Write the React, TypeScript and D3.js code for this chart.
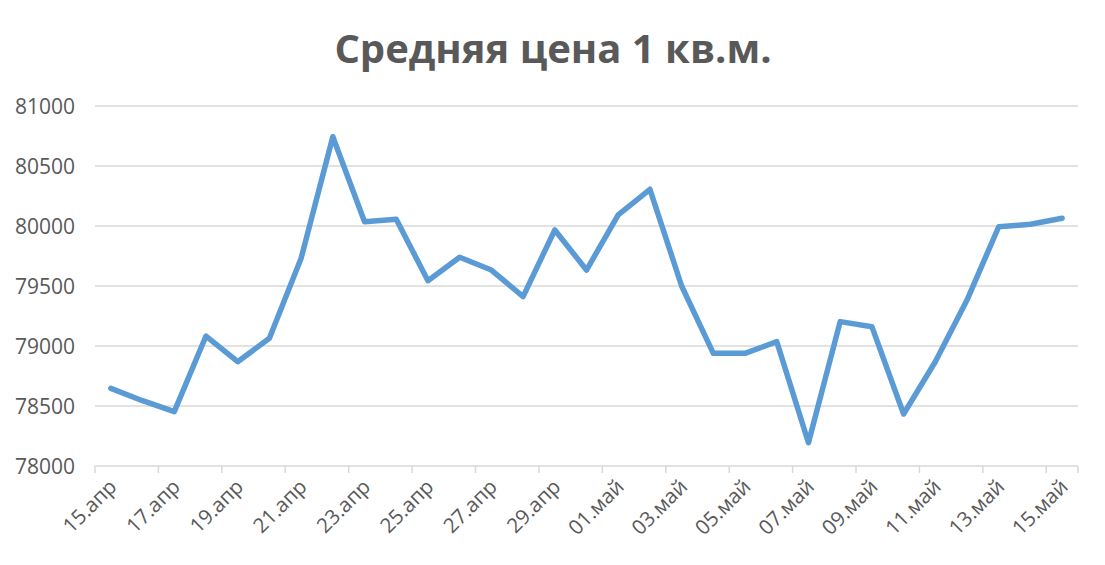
import React from "react";
import * as d3 from "d3";

const categories = [
  "15.апр","16.апр","17.апр","18.апр","19.апр","20.апр","21.апр","22.апр","23.апр","24.апр",
  "25.апр","26.апр","27.апр","28.апр","29.апр","30.апр","01.май","02.май","03.май","04.май",
  "05.май","06.май","07.май","08.май","09.май","10.май","11.май","12.май","13.май","14.май","15.май",
];
const values = [
  78647, 78544, 78453, 79083, 78869, 79064, 79731, 80744, 80036, 80056,
  79544, 79739, 79633, 79411, 79967, 79633, 80092, 80306, 79500, 78939,
  78939, 79036, 78194, 79203, 79161, 78433, 78869, 79383, 79994, 80014, 80064,
];
const yTicks = [78000, 78500, 79000, 79500, 80000, 80500, 81000];
const title = "Средняя цена 1 кв.м.";

export default function App() {
  const W = 1105, H = 565;
  const left = 95, right = 1078, top = 106, bottom = 466;
  const x = d3.scaleBand<string>().domain(categories).range([left, right]);
  const y = d3.scaleLinear().domain([78000, 81000]).range([bottom, top]);
  const cx = (c: string) => (x(c) as number) + x.bandwidth() / 2;
  const line = d3.line<number>().x((_, i) => cx(categories[i])).y((d) => y(d));
  const tickIdx = categories.map((_, i) => i).filter((i) => i % 2 === 0);
  const font = "'Open Sans', 'Noto Sans', sans-serif";
  return (
    <svg width={W} height={H} style={{ position: "absolute", left: 0, top: 0, background: "#fff" }}>
      <text x={553} y={63} textAnchor="middle" fontFamily={font} fontWeight={700} fontSize={40} fill="#595959">
        {title}
      </text>
      {yTicks.map((t) => (
        <g key={t}>
          <line x1={left} x2={right} y1={y(t)} y2={y(t)} stroke="#d9d9d9" strokeWidth={1.5} />
          <text x={75} y={y(t) + 7.5} textAnchor="end" fontFamily={font} fontSize={21} fill="#595959">
            {t}
          </text>
        </g>
      ))}
      {tickIdx.map((i) => (
        <line key={"t" + i} x1={x(categories[i]) as number} x2={x(categories[i]) as number}
          y1={bottom} y2={bottom + 7} stroke="#d9d9d9" strokeWidth={1.5} />
      ))}
      <line x1={right} x2={right} y1={bottom} y2={bottom + 7} stroke="#d9d9d9" strokeWidth={1.5} />
      {tickIdx.map((i) => (
        <text key={"l" + i} transform={`translate(${cx(categories[i]) + 7},${bottom + 22}) rotate(-45)`}
          textAnchor="end" fontFamily={font} fontSize={20.5} fill="#595959">
          {categories[i]}
        </text>
      ))}
      <path d={line(values) || ""} fill="none" stroke="#5b9bd5" strokeWidth={5.5} strokeLinejoin="round" strokeLinecap="round" />
    </svg>
  );
}
